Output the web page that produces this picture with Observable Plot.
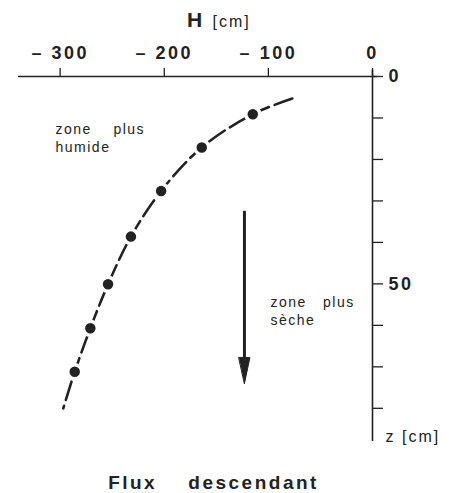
<!DOCTYPE html>
<html>
<head>
<meta charset="utf-8">
<script src="https://cdn.jsdelivr.net/npm/d3@7"></script>
<script src="https://cdn.jsdelivr.net/npm/@observablehq/plot@0.6"></script>
<style>
  body { margin: 0; background: #fff; }
  g[aria-label="x-axis tick label"] text,
  g[aria-label="y-axis tick label"] text { letter-spacing: 2.5px; }
  g[aria-description="zone-label"] text { letter-spacing: 1.5px; }
  g[aria-description="unit-label"] text { letter-spacing: 2px; }
  g[aria-description="title"] text { letter-spacing: 2.5px; }
</style>
</head>
<body>
<div id="chart"></div>
<script>
// Measured points (H in cm, z in cm)
const pointH = [-115, -164, -203, -232, -254, -271, -286];
const pointZ = [9.1, 17.1, 27.6, 38.6, 50.1, 60.7, 71.2];
// Dashed profile curve
const curveH = [-77, -115, -164, -203, -232, -254, -271, -286, -297];
const curveZ = [5.3, 9.1, 17.1, 27.6, 38.6, 50.1, 60.7, 71.2, 80];
// Axes
const xTicks = [-300, -200, -100, 0];
const xTickLabels = ["– 300", "– 200", "– 100", "0"];
const yTicks = [0, 10, 20, 30, 40, 50, 60, 70, 80];
const yTickLabels = ["0", "", "", "", "", "50", "", "", ""];
// Flow arrow (H, z start, z end)
const arrowH = [-123];
const arrowZ1 = [32.5];
const arrowZ2 = [74];
// Texts
const xTitle = ["H", "[cm]"];
const yTitle = ["z [cm]"];
const zoneWet = ["zone\u00a0\u00a0\u00a0\u00a0plus\nhumide"];
const zoneDry = ["zone\u00a0\u00a0\u00a0plus\nsèche"];
const title = ["Flux\u00a0\u00a0\u00a0\u00a0descendant"];

const points = pointH.map((h, i) => ({H: h, z: pointZ[i]}));
const curve = curveH.map((h, i) => ({H: h, z: curveZ[i]}));
const arrow = arrowH.map((h, i) => ({H: h, z1: arrowZ1[i], z2: arrowZ2[i]}));

const ink = "#222";
const headShape = {
  draw(context, l) {
    context.moveTo(0, -l);
    context.lineTo(-5.5, 0);
    context.lineTo(5.5, 0);
    context.closePath();
  }
};

const chart = Plot.plot({
  width: 455,
  height: 493,
  marginLeft: 18,
  marginRight: 83,
  marginTop: 76,
  marginBottom: 52,
  x: {domain: [-340, 0]},
  y: {domain: [0, 88], reverse: true},
  style: {fontFamily: "'Liberation Sans', Arial, sans-serif", color: ink, background: "#fff"},
  marks: [
    // axis lines
    Plot.ruleY([0], {x1: -340, x2: 5, stroke: ink, strokeWidth: 1.6}),
    Plot.ruleX([0], {y1: -1.5, y2: 88, stroke: ink, strokeWidth: 1.6}),
    Plot.axisX({
      anchor: "top", ticks: xTicks, tickSize: 9, tickPadding: 9, label: null,
      tickFormat: d => xTickLabels[xTicks.indexOf(d)],
      fontSize: 18, fontWeight: "bold", stroke: ink, strokeWidth: 1.3
    }),
    Plot.axisY({
      anchor: "right", ticks: yTicks, tickSize: 10, tickPadding: 6, label: null,
      tickFormat: d => yTickLabels[yTicks.indexOf(d)],
      fontSize: 18, fontWeight: "bold", stroke: ink, strokeWidth: 1.3
    }),
    // profile
    Plot.line(curve, {x: "H", y: "z", curve: "catmull-rom", stroke: ink, strokeWidth: 2.6, strokeDasharray: "19,6"}),
    Plot.dot(points, {x: "H", y: "z", r: 7, fill: ink, stroke: "#fff", strokeWidth: 3.5}),
    // arrow
    Plot.ruleX(arrow, {x: "H", y1: "z1", y2: d => d.z2 - 5, stroke: ink, strokeWidth: 3}),
    Plot.vector(arrow, {x: "H", y: "z2", length: 26, rotate: 180, anchor: "end", shape: headShape, fill: ink, stroke: ink, strokeWidth: 1}),
    // texts
    Plot.text([xTitle[0]], {text: d => d, frameAnchor: "top-left", dx: 176, dy: -56, lineAnchor: "middle", fontSize: 21, fontWeight: "bold", textAnchor: "middle"}),
    Plot.text([xTitle[1]], {text: d => d, frameAnchor: "top-left", dx: 194, dy: -55, lineAnchor: "middle", fontSize: 16, textAnchor: "start", ariaDescription: "unit-label"}),
    Plot.text(yTitle, {text: d => d, frameAnchor: "top-left", dx: 367, dy: 360, lineAnchor: "middle", fontSize: 16, textAnchor: "start", ariaDescription: "unit-label"}),
    Plot.text(zoneWet, {text: d => d, frameAnchor: "top-left", dx: 37, dy: 61, lineAnchor: "middle", fontSize: 14, lineHeight: 1.3, textAnchor: "start", ariaDescription: "zone-label"}),
    Plot.text(zoneDry, {text: d => d, frameAnchor: "top-left", dx: 252, dy: 234, lineAnchor: "middle", fontSize: 14, lineHeight: 1.3, textAnchor: "start", ariaDescription: "zone-label"}),
    Plot.text(title, {text: d => d, frameAnchor: "top-left", dx: 195, dy: 406, lineAnchor: "middle", fontSize: 19, fontWeight: "bold", textAnchor: "middle", ariaDescription: "title"})
  ]
});
document.getElementById("chart").appendChild(chart);
</script>
</body>
</html>
